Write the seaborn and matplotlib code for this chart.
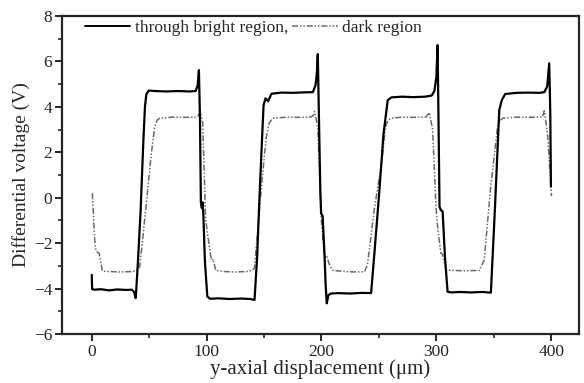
import matplotlib
matplotlib.use("Agg")
import matplotlib.pyplot as plt
import seaborn as sns
import pandas as pd
from matplotlib.ticker import MultipleLocator
from matplotlib.lines import Line2D

# ---- data ----
bright_x = [0, 0.3, 2, 8, 15, 22, 30, 35, 36.8, 38.3, 40, 42.5, 45, 46.3, 47.5, 49.5,
            55, 65, 75, 85, 90.5, 92.2, 93.3, 94.2, 95, 95.8, 96.4, 97.2, 98.5, 100.6,
            103, 110, 120, 130, 138, 141.7, 144, 146, 148, 149.6, 151.3, 153.5, 156.5,
            165, 175, 185, 192.5, 194.8, 196, 196.8, 197.8, 199, 199.7, 201, 202.6,
            203.6, 204.6, 206, 208, 215, 225, 235, 243.2, 246, 250.4, 254, 257.7, 261,
            270, 280, 290, 296, 298.3, 300, 301.1, 302, 302.8, 304, 305.5, 307.5, 309.8,
            313, 320, 330, 340, 347.5, 351, 354.8, 357, 360, 370, 380, 390, 394, 396.5,
            398.3, 399.2, 399.8]
bright_y = [-3.40, -4.02, -4.05, -4.03, -4.08, -4.04, -4.06, -4.05, -4.15, -4.42, -3.0,
            -0.6, 2.6, 4.0, 4.55, 4.72, 4.70, 4.68, 4.70, 4.68, 4.70, 4.95, 5.62, 3.5,
            -0.2, -0.45, -0.2, -0.8, -2.8, -4.35, -4.45, -4.43, -4.46, -4.44, -4.46,
            -4.5, -2.6, 0.0, 2.3, 4.08, 4.38, 4.25, 4.58, 4.63, 4.62, 4.64, 4.65, 4.95,
            5.5, 6.33, 3.5, 0.3, -0.69, -0.8, -2.45, -3.8, -4.65, -4.3, -4.22, -4.2,
            -4.22, -4.19, -4.2, -2.5, 0.3, 2.8, 4.3, 4.42, 4.45, 4.43, 4.45, 4.5, 4.7,
            5.3, 6.72, 3.0, -0.4, -0.55, -0.6, -2.6, -4.14, -4.17, -4.15, -4.17, -4.15,
            -4.18, -0.5, 3.86, 4.3, 4.57, 4.62, 4.63, 4.62, 4.65, 4.9, 5.92, 3.8, 0.5]

dark_x = [0.5, 1.2, 2.5, 3.5, 5, 6.5, 8, 9.3, 15, 25, 35, 39, 41.7, 44, 48, 52, 54.8,
          57, 59, 70, 80, 90, 92.5, 94.5, 96.5, 98, 99, 100.5, 102, 104, 105.5, 108,
          115, 125, 135, 139.5, 141.7, 146, 150, 152, 154.5, 157.7, 170, 180, 190,
          192.5, 194, 195.3, 196.8, 198, 199.7, 201.5, 202.6, 204.5, 206.5, 209.8, 220,
          230, 237.4, 240, 246, 252.8, 255.6, 258, 260.6, 270, 280, 291, 294, 296.8,
          298.5, 299.7, 301.5, 304, 305.5, 308.4, 315, 325, 337.4, 341.7, 347, 353.3,
          355.5, 357.5, 370, 380, 392.5, 394, 395.5, 397.2, 398.5, 400.3]
dark_y = [0.2, -0.5, -1.8, -2.3, -2.4, -2.45, -2.9, -3.23, -3.25, -3.27, -3.25, -3.2,
          -3.05, -2.0, 0.0, 2.0, 3.13, 3.42, 3.5, 3.55, 3.54, 3.55, 3.6, 3.79, 3.35,
          1.0, -0.84, -1.5, -2.0, -2.74, -2.7, -3.2, -3.25, -3.27, -3.25, -3.2, -3.1,
          -0.5, 1.7, 2.68, 3.3, 3.5, 3.55, 3.54, 3.55, 3.6, 3.8, 3.5, 3.07, 1.5, -0.84,
          -2.0, -2.6, -2.55, -2.9, -3.2, -3.25, -3.27, -3.26, -2.96, -0.5, 1.66, 3.13,
          3.4, 3.5, 3.55, 3.54, 3.56, 3.75, 2.98, 1.0, -0.4, -1.5, -2.45, -2.5, -3.18,
          -3.2, -3.22, -3.2, -2.74, 0.3, 3.13, 3.4, 3.5, 3.55, 3.54, 3.56, 3.83, 3.3,
          2.61, 1.5, 0.07]

labels = ["through bright region,", "dark region"]
x_ticks = [0, 100, 200, 300, 400]
y_ticks = [-6, -4, -2, 0, 2, 4, 6, 8]

# ---- style ----
sns.set_style("ticks")
plt.rcParams["font.family"] = ["Liberation Serif", "DejaVu Serif"]

fig = plt.figure(figsize=(5.84, 3.83), dpi=100)
ax = fig.add_axes([0.106, 0.128, 0.885, 0.83])

bright = pd.DataFrame({"x": bright_x, "y": bright_y})
dark = pd.DataFrame({"x": dark_x, "y": dark_y})

dash_style = (0, (4, 1.2, 1, 1.2, 1, 1.2))
gray = "#6a6a6a"

sns.lineplot(data=dark, x="x", y="y", sort=False, estimator=None, ax=ax,
             color=gray, linewidth=1.1, linestyle=dash_style)
sns.lineplot(data=bright, x="x", y="y", sort=False, estimator=None, ax=ax,
             color="black", linewidth=1.6)

ax.set_xlim(-26, 424)
ax.set_ylim(-6, 8)
ax.set_xticks(x_ticks)
ax.set_yticks(y_ticks)
ax.xaxis.set_minor_locator(MultipleLocator(50))
ax.yaxis.set_minor_locator(MultipleLocator(1))
ax.tick_params(which="major", direction="out", length=5, width=1.4,
               labelsize=12.5, top=False, right=False, pad=2)
ax.tick_params(which="minor", direction="out", length=3, width=1.2,
               top=False, right=False)
for s in ax.spines.values():
    s.set_linewidth(1.6)
    s.set_visible(True)

ax.set_xlabel("y-axial displacement (\u03bcm)", fontsize=15, labelpad=0)
ax.set_ylabel("Differential voltage (V)", fontsize=14, labelpad=3)

handles = [Line2D([], [], color="black", linewidth=1.4),
           Line2D([], [], color=gray, linewidth=1.1, linestyle=dash_style)]
ax.legend(handles, labels, loc="upper left", ncol=2, frameon=False,
          fontsize=12.5, handlelength=2.6, handletextpad=0.25,
          columnspacing=0.25, bbox_to_anchor=(0.025, 1.02), borderaxespad=0.2)

fig.savefig("out.png", dpi=100)
